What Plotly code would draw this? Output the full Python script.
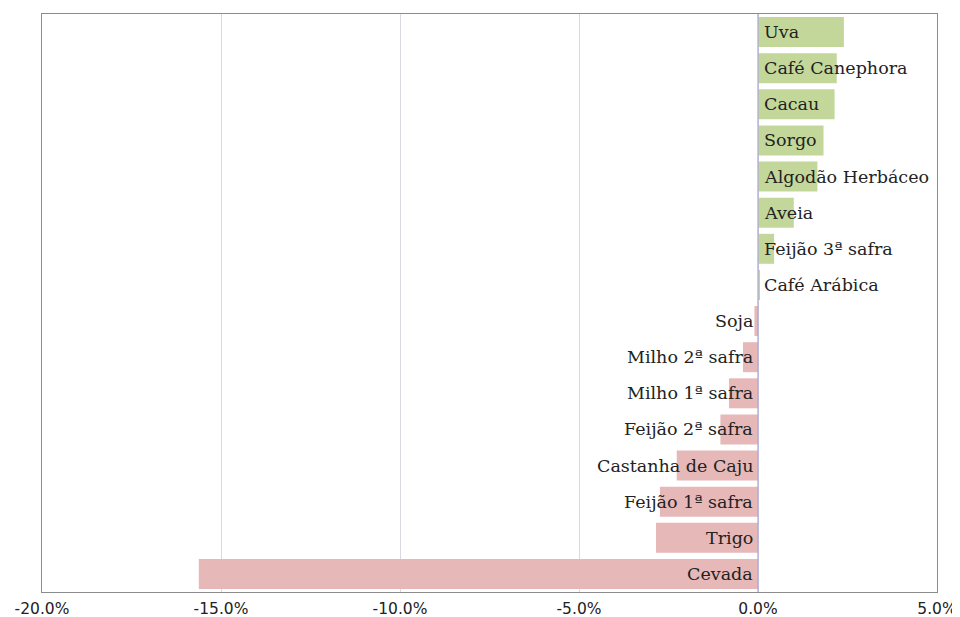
import plotly.graph_objects as go

categories = ["Uva", "Café Canephora", "Cacau", "Sorgo", "Algodão Herbáceo", "Aveia",
              "Feijão 3ª safra", "Café Arábica", "Soja", "Milho 2ª safra", "Milho 1ª safra",
              "Feijão 2ª safra", "Castanha de Caju", "Feijão 1ª safra", "Trigo", "Cevada"]
values = [2.4, 2.2, 2.14, 1.83, 1.66, 1.0, 0.45, 0.03, -0.1, -0.42, -0.81,
          -1.05, -2.27, -2.74, -2.85, -15.62]
tick_vals = [-20, -15, -10, -5, 0, 5]
tick_text = ["-20.0%", "-15.0%", "-10.0%", "-5.0%", "0.0%", "5.0%"]

GREEN = "#c4d79b"
PINK = "#e6b8b7"
colors = [GREEN if v >= 0 else PINK for v in values]

fig = go.Figure()
fig.add_trace(go.Bar(
    x=values, y=categories, orientation="h",
    marker=dict(color=colors, line=dict(width=0)),
    hoverinfo="x+y",
))

for c, v in zip(categories, values):
    fig.add_annotation(
        x=0, y=c, xref="x", yref="y",
        text=c, showarrow=False,
        xanchor="left" if v >= 0 else "right",
        xshift=4 if v >= 0 else -3,
        font=dict(family="DejaVu Serif, Liberation Serif, serif", size=17.5, color="#222222"),
    )

fig.add_shape(type="line", xref="x", yref="paper", x0=0, x1=0, y0=0, y1=1,
              line=dict(color="#a9a6d6", width=1.2))

fig.update_layout(
    width=952, height=609,
    margin=dict(l=34, r=23, t=6, b=25, autoexpand=False),
    paper_bgcolor="white", plot_bgcolor="white",
    bargap=0.17, showlegend=False,
    xaxis=dict(
        range=[-20, 5], tickvals=tick_vals, ticktext=tick_text,
        showgrid=True, gridcolor="#d9d9e3", gridwidth=1,
        zeroline=False, showline=True, linecolor="#8c8c8c", linewidth=1, mirror=True,
        ticks="", ticklabelstandoff=2,
        tickfont=dict(family="DejaVu Sans, Liberation Sans, sans-serif", size=15.5, color="#222222"),
    ),
    yaxis=dict(
        categoryorder="array", categoryarray=categories[::-1],
        showticklabels=False, showgrid=False, zeroline=False,
        showline=True, linecolor="#8c8c8c", linewidth=1, mirror=True, ticks="",
    ),
)

fig.write_html("out.html")
